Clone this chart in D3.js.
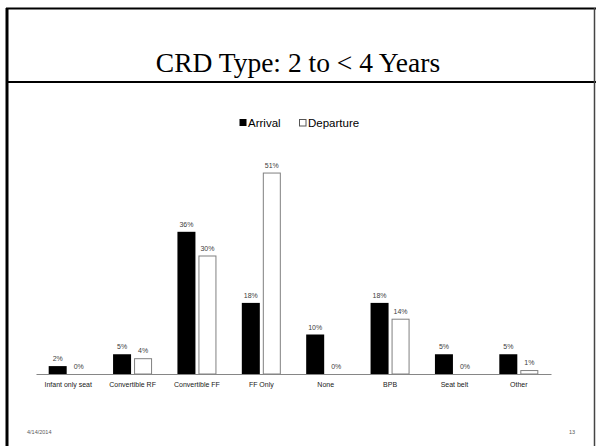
<!DOCTYPE html>
<html>
<head>
<meta charset="utf-8">
<title>CRD Type: 2 to &lt; 4 Years</title>
<script src="https://d3js.org/d3.v7.min.js"></script>
<style>
  body { margin: 0; background: #fff; }
  svg { display: block; }
</style>
</head>
<body>
<svg id="slide" width="596" height="446"></svg>
<script>
const categories = ["Infant only seat", "Convertible RF", "Convertible FF", "FF Only", "None", "BPB", "Seat belt", "Other"];
const series = ["Arrival", "Departure"];
const arrival = [2, 5, 36, 18, 10, 18, 5, 5];
const departure = [0, 4, 30, 51, 0, 14, 0, 1];

const svg = d3.select("#slide");

// slide frame
svg.append("line").attr("x1", 7).attr("y1", 8).attr("x2", 7).attr("y2", 446)
  .attr("stroke", "#000").attr("stroke-width", 3);
svg.append("line").attr("x1", 6).attr("y1", 8.5).attr("x2", 596).attr("y2", 8.5)
  .attr("stroke", "#000").attr("stroke-width", 2);
svg.append("line").attr("x1", 6).attr("y1", 82).attr("x2", 596).attr("y2", 82)
  .attr("stroke", "#000").attr("stroke-width", 2);
svg.append("line").attr("x1", 594.5).attr("y1", 8).attr("x2", 594.5).attr("y2", 446)
  .attr("stroke", "#444").attr("stroke-width", 1.5);

svg.append("text")
  .attr("x", 298).attr("y", 72)
  .attr("text-anchor", "middle")
  .style("font-family", "'Liberation Serif', 'Times New Roman', serif")
  .style("font-size", "27.5px")
  .text("CRD Type: 2 to < 4 Years");

// legend
const legend = svg.append("g").style("font-family", "'Liberation Sans', Arial, sans-serif").style("font-size", "11.5px");
legend.append("rect").attr("x", 239.5).attr("y", 119).attr("width", 7).attr("height", 7).attr("fill", "#000");
legend.append("text").attr("x", 248).attr("y", 127).attr("fill", "#000").text("Arrival");
legend.append("rect").attr("x", 299.5).attr("y", 119.5).attr("width", 6.5).attr("height", 6.5)
  .attr("fill", "#fff").attr("stroke", "#555").attr("stroke-width", 1);
legend.append("text").attr("x", 308).attr("y", 127).attr("fill", "#000").text("Departure");

// chart
const x0 = d3.scaleBand().domain(categories).range([36, 551]).paddingInner(0).paddingOuter(0);
const bw = x0.bandwidth();
const x1 = d3.scaleBand().domain(series).range([bw / 2 - 19.5, bw / 2 + 19.5]).paddingInner(1 / 7);
const y = d3.scaleLinear().domain([0, 60]).range([374, 137]);

const rows = categories.map((c, i) => ({ cat: c, vals: [
  { s: "Arrival", v: arrival[i] },
  { s: "Departure", v: departure[i] }
] }));

const groups = svg.append("g").selectAll("g").data(rows).join("g")
  .attr("transform", d => `translate(${x0(d.cat)},0)`);

groups.selectAll("rect").data(d => d.vals.filter(b => b.v > 0)).join("rect")
  .attr("x", b => x1(b.s) + (b.s === "Departure" ? 0.5 : 0))
  .attr("y", b => y(b.v) + (b.s === "Departure" ? 0.5 : 0))
  .attr("width", b => x1.bandwidth() - (b.s === "Departure" ? 1 : 0))
  .attr("height", b => y(0) - y(b.v) - (b.s === "Departure" ? 0.5 : 0))
  .attr("fill", b => b.s === "Arrival" ? "#000" : "#fff")
  .attr("stroke", b => b.s === "Arrival" ? "none" : "#808080")
  .attr("stroke-width", 1);

groups.selectAll("text").data(d => d.vals).join("text")
  .attr("x", b => x1(b.s) + x1.bandwidth() / 2)
  .attr("y", b => y(b.v) - 5)
  .attr("text-anchor", "middle")
  .attr("fill", "#404040")
  .style("font-family", "'Liberation Sans', Arial, sans-serif")
  .style("font-size", "7px")
  .text(b => b.v + "%");

const xAxis = svg.append("g")
  .attr("transform", `translate(0,${y(0)})`)
  .call(d3.axisBottom(x0).tickSize(0).tickPadding(8));
xAxis.select(".domain").attr("stroke", "#868686").attr("stroke-width", 1.2);
xAxis.selectAll("text")
  .attr("fill", "#202020")
  .style("font-family", "'Liberation Sans', Arial, sans-serif")
  .style("font-size", "7px");

// footer
const foot = svg.append("g").attr("fill", "#595959")
  .style("font-family", "'Liberation Sans', Arial, sans-serif").style("font-size", "5.5px");
foot.append("text").attr("x", 27).attr("y", 434).text("4/14/2014");
foot.append("text").attr("x", 575).attr("y", 434).attr("text-anchor", "end").text("13");
</script>
</body>
</html>
